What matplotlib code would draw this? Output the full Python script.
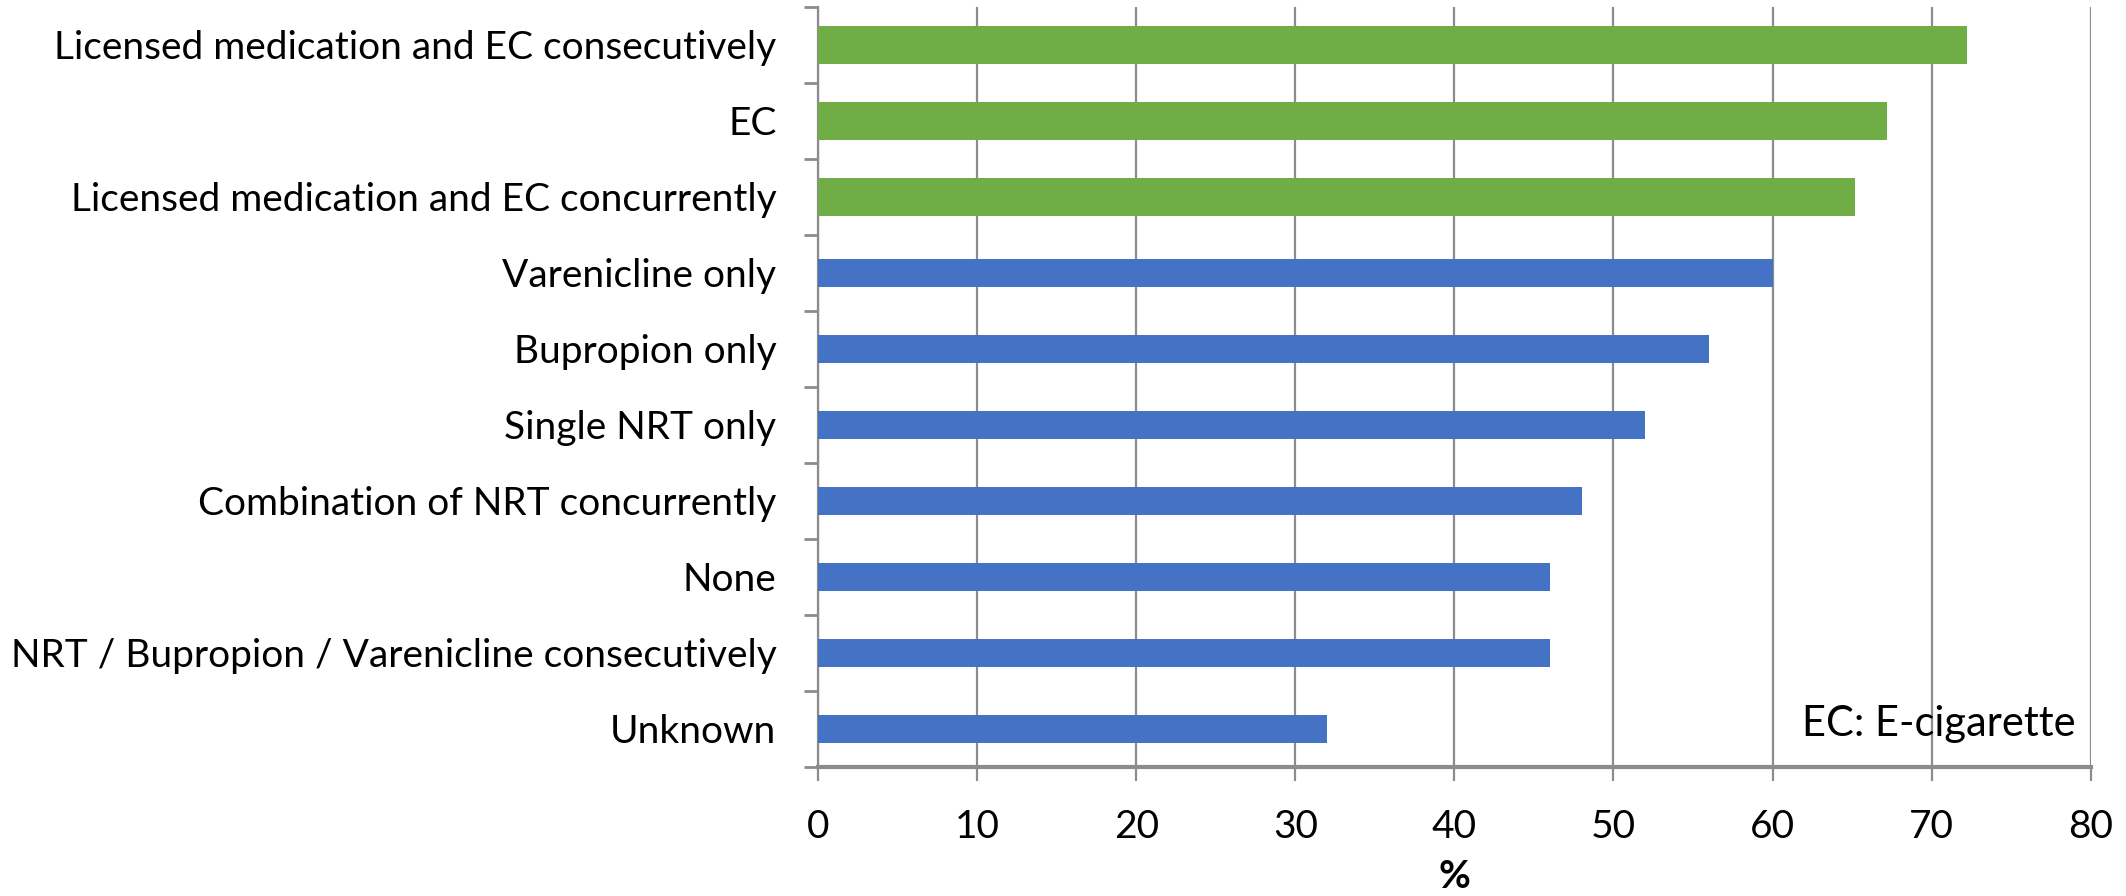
import numpy as np
import matplotlib.pyplot as plt

plt.rcParams['font.family'] = ['Lato', 'DejaVu Sans']

labels = [
    'Licensed medication and EC consecutively',
    'EC',
    'Licensed medication and EC concurrently',
    'Varenicline only',
    'Bupropion only',
    'Single NRT only',
    'Combination of NRT concurrently',
    'None',
    'NRT / Bupropion / Varenicline consecutively',
    'Unknown',
]
pct = [72.2, 67.2, 65.2, 60.0, 56.0, 52.0, 48.0, 46.0, 46.0, 32.0]
uses_ec = [True, True, True, False, False, False, False, False, False, False]

green = '#70AD47'
blue = '#4472C4'
grid_col = '#8C8C8C'

fig = plt.figure(figsize=(21.26, 8.96), dpi=100)
ax = fig.add_axes([0.3848, 0.144, 0.5986, 0.8482])

n = len(labels)
ypos = np.arange(n)[::-1]
colors = [green if e else blue for e in uses_ec]
heights = [0.5 if e else 0.38 for e in uses_ec]
ax.barh(ypos, pct, height=heights, color=colors, zorder=3)

ax.set_xlim(0, 80)
ax.set_ylim(-0.5, n - 0.5)
ax.set_xticks(np.arange(0, 81, 10))
ax.xaxis.grid(True, color=grid_col, linewidth=1.6, zorder=0)

# category boundaries carry the tick marks, centres carry the labels
ax.set_yticks(np.arange(-0.5, n, 1.0))
ax.set_yticklabels([])
ax.set_yticks(ypos, minor=True)
ax.set_yticklabels(labels, minor=True)
ax.tick_params(axis='y', which='major', length=10, width=2, color=grid_col, direction='out')
ax.tick_params(axis='y', which='minor', length=0, pad=30, labelsize=28)
ax.tick_params(axis='x', length=10, width=1.6, color=grid_col, pad=20, labelsize=28)

for s in ['top', 'right']:
    ax.spines[s].set_visible(False)
ax.spines['left'].set_color(grid_col)
ax.spines['left'].set_linewidth(1.6)
ax.spines['bottom'].set_color(grid_col)
ax.spines['bottom'].set_linewidth(3)

ax.set_xlabel('%', fontsize=28, fontweight='bold', labelpad=10)
ax.text(0.988, 0.057, 'EC: E-cigarette', transform=ax.transAxes,
        ha='right', va='center', fontsize=30, zorder=4)

fig.savefig('out.png', dpi=100)
